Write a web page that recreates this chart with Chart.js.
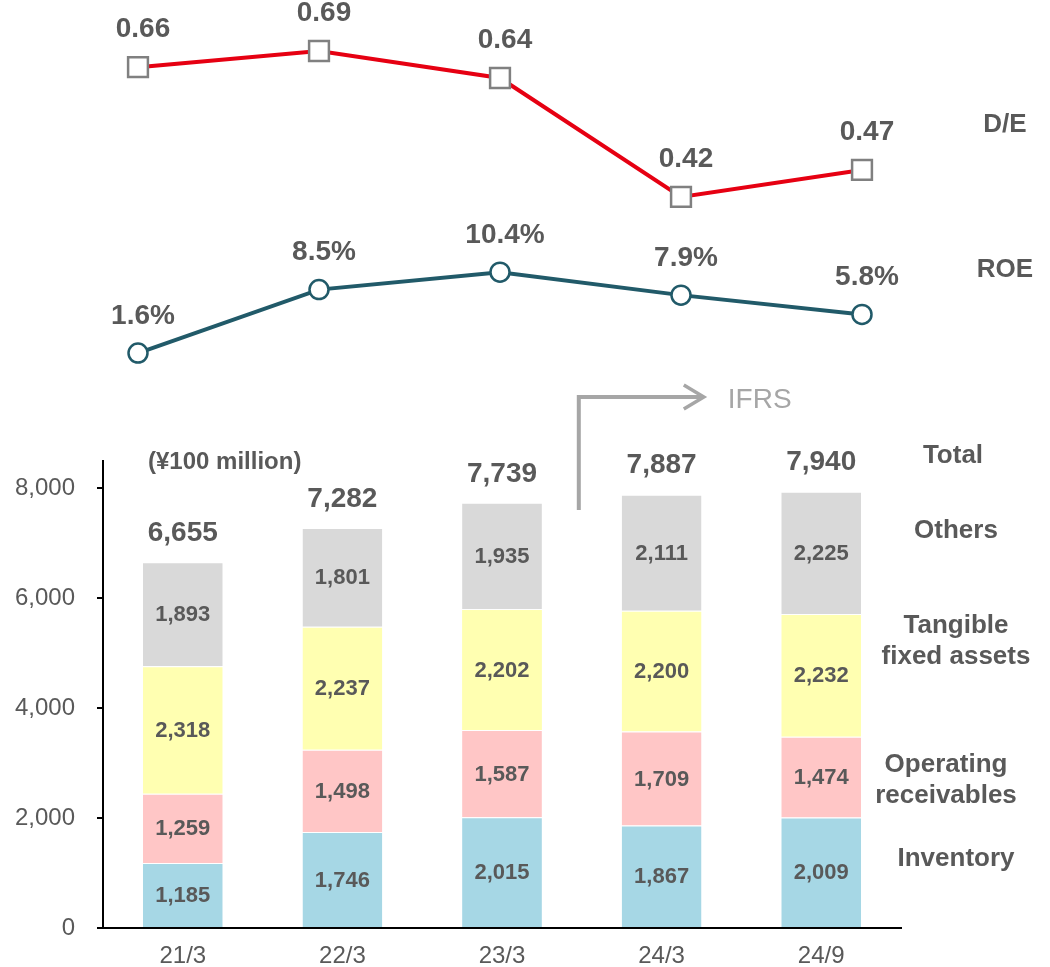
<!DOCTYPE html>
<html>
<head>
<meta charset="utf-8">
<script src="https://cdn.jsdelivr.net/npm/chart.js@4/dist/chart.umd.min.js"></script>
<style>
  html, body { margin: 0; padding: 0; background: #fff; }
  #wrap { position: relative; width: 1050px; height: 967px; }
  #lines { position: absolute; left: 0; top: 0; }
  #bars { position: absolute; left: 0; top: 380px; }
</style>
</head>
<body>
<div id="wrap">
  <canvas id="lines" width="1050" height="380"></canvas>
  <canvas id="bars" width="1050" height="587"></canvas>
</div>
<script>
// data
const periods = ['21/3', '22/3', '23/3', '24/3', '24/9'];
const deRatio = [0.66, 0.69, 0.64, 0.42, 0.47];
const roe = [1.6, 8.5, 10.4, 7.9, 5.8];
const inventory = [1185, 1746, 2015, 1867, 2009];
const receivables = [1259, 1498, 1587, 1709, 1474];
const fixedAssets = [2318, 2237, 2202, 2200, 2232];
const others = [1893, 1801, 1935, 2111, 2225];
const totals = [6655, 7282, 7739, 7887, 7940];
const yTicks = [0, 2000, 4000, 6000, 8000];

const FONT = "'Liberation Sans', Arial, sans-serif";
const GRAY = '#595959';
Chart.defaults.font.family = FONT;
Chart.defaults.color = GRAY;

// value labels + series names for the top line chart
const lineLabels = {
  id: 'lineLabels',
  afterDatasetsDraw(chart) {
    const ctx = chart.ctx;
    const fmts = [v => v.toFixed(2), v => v.toFixed(1) + '%'];
    const lift = [38, 37];
    ctx.save();
    ctx.fillStyle = GRAY;
    ctx.textAlign = 'center';
    ctx.textBaseline = 'middle';
    chart.data.datasets.forEach((ds, i) => {
      const pts = chart.getDatasetMeta(i).data;
      ctx.font = 'bold 28px ' + FONT;
      pts.forEach((p, j) => ctx.fillText(fmts[i](ds.data[j]), p.x + 5, p.y - lift[i]));
      const last = pts[pts.length - 1];
      ctx.font = 'bold 26px ' + FONT;
      ctx.fillText(ds.label, chart.chartArea.right + 143, last.y - 45);
    });
    ctx.restore();
  }
};

new Chart(document.getElementById('lines'), {
  type: 'line',
  data: {
    labels: periods,
    datasets: [{
      label: 'D/E',
      data: deRatio,
      yAxisID: 'yDE',
      borderColor: '#E60012',
      borderWidth: 4,
      pointStyle: 'rect',
      pointRadius: 14,
      pointBackgroundColor: '#fff',
      pointBorderColor: '#808080',
      pointBorderWidth: 2.5,
      clip: false,
    }, {
      label: 'ROE',
      data: roe,
      yAxisID: 'yROE',
      borderColor: '#215A69',
      borderWidth: 4,
      pointRadius: 9.5,
      pointBackgroundColor: '#fff',
      pointBorderColor: '#215A69',
      pointBorderWidth: 2.5,
      clip: false,
    }],
  },
  options: {
    responsive: false,
    animation: false,
    layout: { autoPadding: false, padding: { left: 138, right: 188, top: 0, bottom: 0 } },
    plugins: { legend: { display: false }, tooltip: { enabled: false } },
    scales: {
      x: { display: false, offset: false },
      yDE: { display: false, min: 0.0815, max: 0.7843 },
      yROE: { display: false, min: -1.33, max: 40 },
    },
  },
  plugins: [lineLabels],
});

// labels, totals, notes for the bar chart
const rightNames = [['Inventory'], ['Operating', 'receivables'], ['Tangible', 'fixed assets'], ['Others']];
const rightShift = [[0, -13], [-10, 3], [0, -34], [0, -22]];

const barLabels = {
  id: 'barLabels',
  afterDatasetsDraw(chart) {
    const ctx = chart.ctx;
    const xs = chart.scales.x, ys = chart.scales.y;
    const area = chart.chartArea;
    ctx.save();
    ctx.fillStyle = GRAY;
    ctx.textAlign = 'center';
    ctx.textBaseline = 'middle';

    // segment values
    ctx.font = 'bold 22px ' + FONT;
    chart.data.datasets.forEach((ds, i) => {
      chart.getDatasetMeta(i).data.forEach((bar, j) => {
        ctx.fillText(ds.data[j].toLocaleString('en-US'), bar.x, (bar.y + bar.base) / 2 + 1);
      });
    });

    // totals
    ctx.font = 'bold 28px ' + FONT;
    totals.forEach((t, j) => {
      ctx.fillText(t.toLocaleString('en-US'), xs.getPixelForValue(j), ys.getPixelForValue(t) - 29);
    });

    // series names on the right, beside the last bar
    const n = periods.length - 1;
    const lx = area.right + 55;
    ctx.font = 'bold 26px ' + FONT;
    chart.data.datasets.forEach((ds, i) => {
      const bar = chart.getDatasetMeta(i).data[n];
      const mid = (bar.y + bar.base) / 2 + rightShift[i][1];
      const lines = rightNames[i];
      lines.forEach((s, k) => {
        ctx.fillText(s, lx + rightShift[i][0], mid + (k - (lines.length - 1) / 2) * 31);
      });
    });
    ctx.fillText('Total', lx - 3, ys.getPixelForValue(totals[n]) - 36);

    // unit
    ctx.textAlign = 'left';
    ctx.font = 'bold 24px ' + FONT;
    ctx.fillText('(¥100 million)', area.left + 45, area.top + 1);

    // IFRS arrow
    const ax = (xs.getPixelForValue(2) + xs.getPixelForValue(3)) / 2 - 3;
    const ay = 17;
    const tip = ax + 125;
    ctx.strokeStyle = '#A6A6A6';
    ctx.lineWidth = 4;
    ctx.lineJoin = 'miter';
    ctx.beginPath();
    ctx.moveTo(ax, 130);
    ctx.lineTo(ax, ay);
    ctx.lineTo(tip, ay);
    ctx.stroke();
    ctx.lineWidth = 3.5;
    ctx.beginPath();
    ctx.moveTo(tip - 20, ay - 12);
    ctx.lineTo(tip, ay);
    ctx.lineTo(tip - 20, ay + 12);
    ctx.stroke();
    ctx.fillStyle = '#A6A6A6';
    ctx.font = '28px ' + FONT;
    ctx.fillText('IFRS', tip + 24, ay + 3);
    ctx.restore();
  }
};

const seg = (label, data, color) => ({
  label, data,
  backgroundColor: color,
  borderColor: '#fff',
  borderWidth: { top: 1, left: 0, right: 0, bottom: 0 },
  borderSkipped: false,
  categoryPercentage: 1,
  barPercentage: 0.5,
});

new Chart(document.getElementById('bars'), {
  type: 'bar',
  data: {
    labels: periods,
    datasets: [
      seg('Inventory', inventory, '#A6D7E5'),
      seg('Operating receivables', receivables, '#FFC6C6'),
      seg('Tangible fixed assets', fixedAssets, '#FFFFB1'),
      seg('Others', others, '#D9D9D9'),
    ],
  },
  options: {
    responsive: false,
    animation: false,
    layout: { padding: { left: 0, right: 149, top: 81, bottom: 0 } },
    plugins: { legend: { display: false }, tooltip: { enabled: false } },
    scales: {
      x: {
        stacked: true,
        grid: { display: false },
        border: { display: true, color: '#000', width: 2 },
        ticks: { color: GRAY, font: { size: 24 }, padding: 6 },
        afterFit(s) { s.height = 39; },
      },
      y: {
        stacked: true,
        min: 0,
        max: 8500,
        afterBuildTicks(s) { s.ticks = yTicks.map(v => ({ value: v })); },
        ticks: { color: GRAY, font: { size: 24 }, padding: 22, callback: v => v.toLocaleString('en-US') },
        grid: { drawOnChartArea: false, drawTicks: true, tickLength: 6, color: '#000', lineWidth: 2 },
        border: { display: true, color: '#000', width: 2 },
        afterFit(s) { s.width = 103; },
      },
    },
  },
  plugins: [barLabels],
});
</script>
</body>
</html>
